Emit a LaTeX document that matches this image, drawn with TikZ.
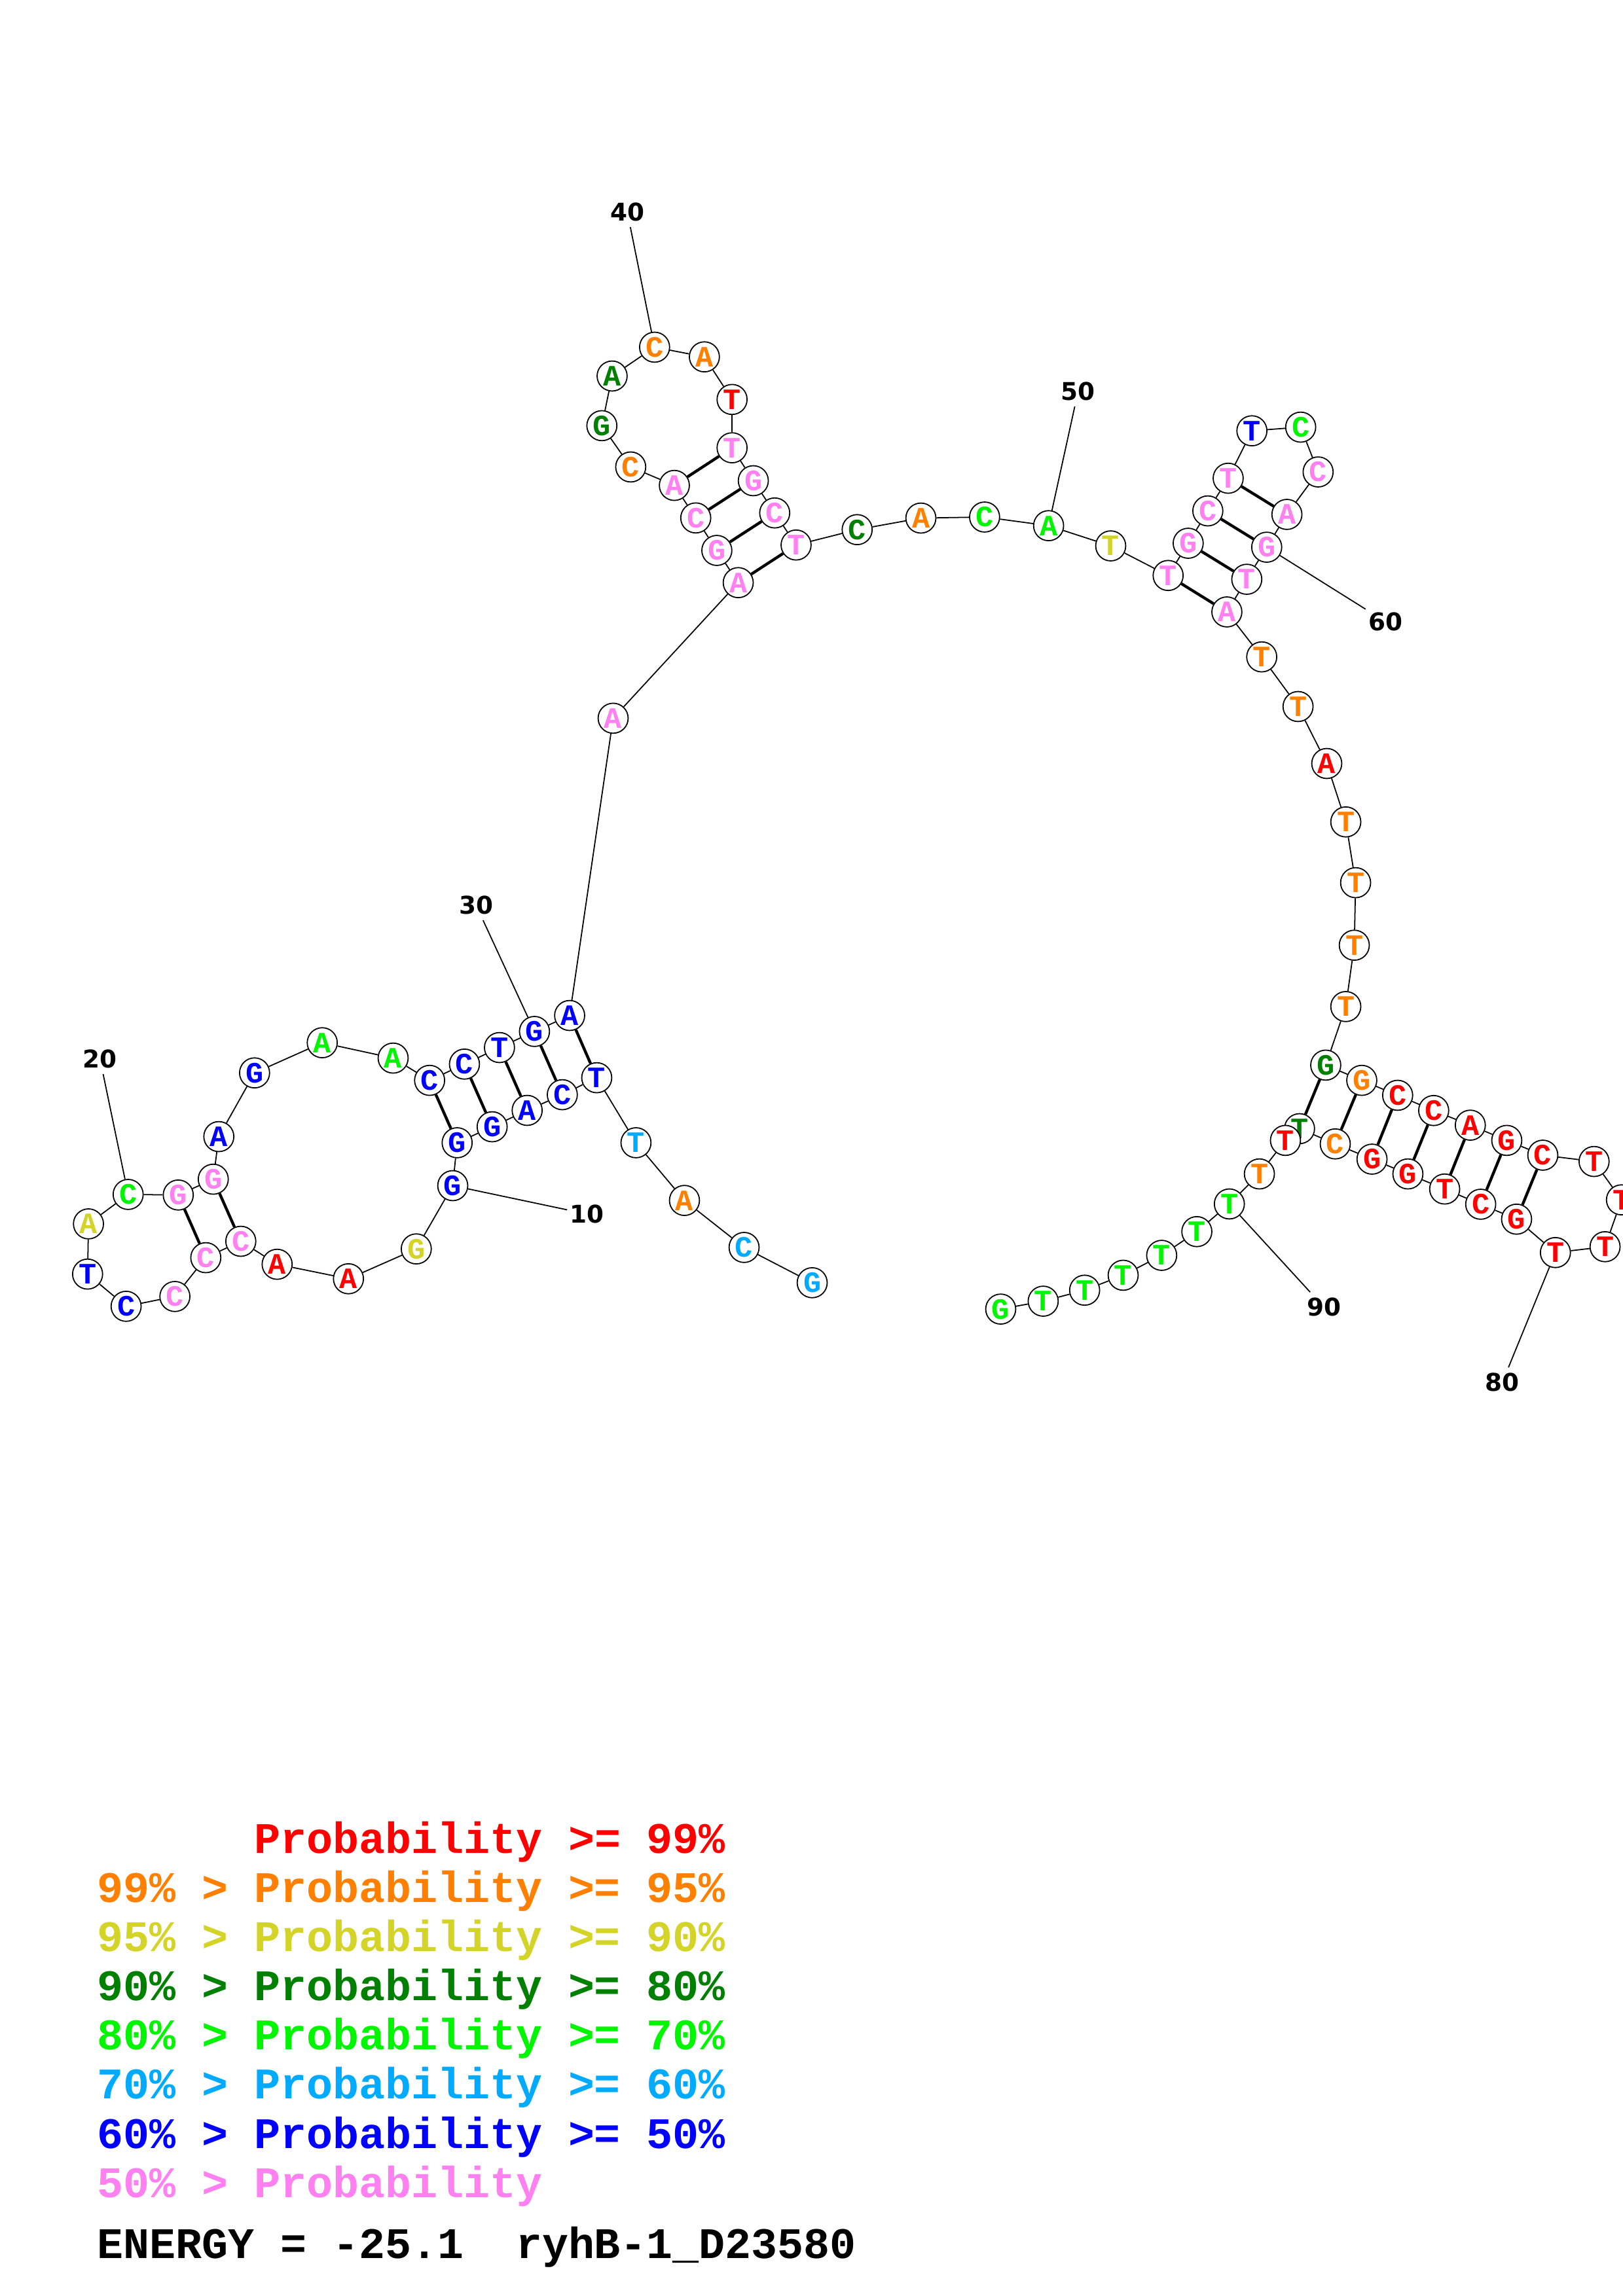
\documentclass[tikz,border=0pt]{standalone}
\usepackage{fontspec}
\newfontfamily\ntfont{Liberation Mono}
\newfontfamily\numfont{DejaVu Sans}
\usetikzlibrary{backgrounds}

\definecolor{pr99}{RGB}{255,0,0}
\definecolor{pr95}{RGB}{255,128,0}
\definecolor{pr90}{RGB}{212,212,40}
\definecolor{pr80}{RGB}{0,128,0}
\definecolor{pr70}{RGB}{0,245,0}
\definecolor{pr60}{RGB}{0,170,255}
\definecolor{pr50}{RGB}{0,0,255}
\definecolor{prlo}{RGB}{255,128,240}

\begin{document}
\begin{tikzpicture}[
    x=0.02cm, y=-0.02cm,
    nt/.style={circle, draw, fill=white, line width=0.45pt,
      minimum size=0.41cm, inner sep=0pt, text=#1,
      font=\ntfont\bfseries\fontsize{11.5}{11.5}\selectfont},
    bb/.style={line width=0.45pt},
    bp/.style={line width=1.1pt},
    numlab/.style={inner xsep=1pt, inner ysep=2pt,
      font=\numfont\bfseries\fontsize{9.5}{9.5}\selectfont},
    leg/.style={anchor=base west, inner sep=0pt,
      font=\ntfont\bfseries\fontsize{16.95}{16.95}\selectfont},
  ]
  \useasboundingbox (0,0) rectangle (1108,1568);

  % 5' tail and first helix
  \node[nt=pr60] (n1) at (554.5,876.0) {G};
  \node[nt=pr60] (n2) at (508.0,851.9) {C};
  \node[nt=pr95] (n3) at (467.3,819.8) {A};
  \node[nt=pr60] (n4) at (434.2,780.4) {T};
  \node[nt=pr50] (n5) at (407.4,736.0) {T};
  \node[nt=pr50] (n6) at (383.9,747.6) {C};
  \node[nt=pr50] (n7) at (359.9,758.3) {A};
  \node[nt=pr50] (n8) at (336.0,769.5) {G};
  \node[nt=pr50] (n9) at (312.1,780.4) {G};
  \node[nt=pr50] (n10) at (309.1,809.7) {G};
  \node[nt=pr90] (n11) at (284.2,852.9) {G};
  \node[nt=pr99] (n12) at (237.9,873.3) {A};
  \node[nt=pr99] (n13) at (189.2,863.4) {A};
  \node[nt=prlo] (n14) at (164.4,847.7) {C};
  \node[nt=prlo] (n15) at (140.5,858.9) {C};
  \node[nt=prlo] (n16) at (119.4,885.4) {C};
  \node[nt=pr50] (n17) at (86.1,892.1) {C};
  \node[nt=pr50] (n18) at (59.8,870.1) {T};
  \node[nt=pr90] (n19) at (60.4,835.8) {A};
  \node[nt=pr70] (n20) at (87.5,815.7) {C};
  \node[nt=prlo] (n21) at (121.7,816.1) {G};
  \node[nt=prlo] (n22) at (145.6,805.3) {G};
  \node[nt=pr50] (n23) at (149.4,776.2) {A};
  \node[nt=pr50] (n24) at (173.8,732.7) {G};
  \node[nt=pr70] (n25) at (220.0,712.1) {A};
  \node[nt=pr70] (n26) at (268.4,722.6) {A};
  \node[nt=pr50] (n27) at (293.3,737.8) {C};
  \node[nt=pr50] (n28) at (317.1,726.7) {C};
  \node[nt=pr50] (n29) at (341.0,715.4) {T};
  \node[nt=pr50] (n30) at (364.9,704.4) {G};
  \node[nt=pr50] (n31) at (388.9,693.5) {A};
  \node[nt=prlo] (n32) at (418.6,490.5) {A};

  % upper left hairpin
  \node[nt=prlo] (n33) at (504.0,397.9) {A};
  \node[nt=prlo] (n34) at (489.4,375.9) {G};
  \node[nt=prlo] (n35) at (475.0,353.7) {C};
  \node[nt=prlo] (n36) at (460.4,331.5) {A};
  \node[nt=pr95] (n37) at (430.6,318.9) {C};
  \node[nt=pr80] (n38) at (410.9,290.7) {G};
  \node[nt=pr80] (n39) at (417.9,256.8) {A};
  \node[nt=pr95] (n40) at (446.9,237.1) {C};
  \node[nt=pr95] (n41) at (480.9,243.7) {A};
  \node[nt=pr99] (n42) at (499.8,272.8) {T};
  \node[nt=prlo] (n43) at (499.8,305.8) {T};
  \node[nt=prlo] (n44) at (514.3,328.3) {G};
  \node[nt=prlo] (n45) at (528.9,350.3) {C};
  \node[nt=prlo] (n46) at (543.5,372.2) {T};
  \node[nt=pr80] (n47) at (585.2,361.7) {C};
  \node[nt=pr95] (n48) at (628.7,353.8) {A};
  \node[nt=pr70] (n49) at (672.2,353.1) {C};
  \node[nt=pr70] (n50) at (715.9,359.0) {A};
  \node[nt=pr90] (n51) at (758.3,372.8) {T};

  % upper right hairpin
  \node[nt=prlo] (n52) at (797.5,393.0) {T};
  \node[nt=prlo] (n53) at (811.2,371.0) {G};
  \node[nt=prlo] (n54) at (824.6,348.9) {C};
  \node[nt=prlo] (n55) at (838.5,326.6) {T};
  \node[nt=pr50] (n56) at (854.7,294.2) {T};
  \node[nt=pr70] (n57) at (888.0,291.7) {C};
  \node[nt=prlo] (n58) at (899.9,322.3) {C};
  \node[nt=prlo] (n59) at (878.6,351.3) {A};
  \node[nt=prlo] (n60) at (864.8,373.7) {G};
  \node[nt=prlo] (n61) at (851.2,395.6) {T};
  \node[nt=prlo] (n62) at (837.6,417.9) {A};
  \node[nt=pr95] (n63) at (861.4,448.6) {T};
  \node[nt=pr95] (n64) at (886.2,482.5) {T};
  \node[nt=pr99] (n65) at (905.8,521.4) {A};
  \node[nt=pr95] (n66) at (918.8,561.3) {T};
  \node[nt=pr95] (n67) at (925.5,602.8) {T};
  \node[nt=pr95] (n68) at (924.6,645.5) {T};
  \node[nt=pr95] (n69) at (918.8,687.4) {T};

  % lower right hairpin
  \node[nt=pr80] (n70) at (905.1,727.4) {G};
  \node[nt=pr95] (n71) at (929.7,737.8) {G};
  \node[nt=pr99] (n72) at (954.2,748.0) {C};
  \node[nt=pr99] (n73) at (978.8,758.4) {C};
  \node[nt=pr99] (n74) at (1003.8,768.4) {A};
  \node[nt=pr99] (n75) at (1028.7,778.8) {G};
  \node[nt=pr99] (n76) at (1053.3,788.9) {C};
  \node[nt=pr99] (n77) at (1088.3,793.2) {T};
  \node[nt=pr99] (n78) at (1107.0,819.4) {T};
  \node[nt=pr99] (n79) at (1095.8,851.4) {T};
  \node[nt=pr99] (n80) at (1061.9,855.4) {T};
  \node[nt=pr99] (n81) at (1035.4,832.6) {G};
  \node[nt=pr99] (n82) at (1010.9,822.4) {C};
  \node[nt=pr99] (n83) at (986.3,812.0) {T};
  \node[nt=pr99] (n84) at (961.2,801.7) {G};
  \node[nt=pr99] (n85) at (936.7,791.6) {G};
  \node[nt=pr95] (n86) at (911.6,781.2) {C};
  \node[nt=pr80] (n87) at (887.2,770.8) {T};
  \node[nt=pr99] (n88) at (877.6,778.8) {T};

  % 3' tail
  \node[nt=pr95] (n89) at (859.8,801.7) {T};
  \node[nt=pr70] (n90) at (839.3,822.2) {T};
  \node[nt=pr70] (n91) at (817.1,841.1) {T};
  \node[nt=pr70] (n92) at (793.1,857.3) {T};
  \node[nt=pr70] (n93) at (766.8,870.9) {T};
  \node[nt=pr70] (n94) at (740.5,881.1) {T};
  \node[nt=pr70] (n95) at (712.2,888.6) {T};
  \node[nt=pr70] (n96) at (683.2,894.0) {G};

  % position numbers
  \node[numlab] (lab10) at (400.9,829.1) {10};
  \node[numlab] (lab20) at (68.3,723.3) {20};
  \node[numlab] (lab30) at (325.1,618.3) {30};
  \node[numlab] (lab40) at (428.3,144.9) {40};
  \node[numlab] (lab50) at (736.0,267.4) {50};
  \node[numlab] (lab60) at (946.0,424.6) {60};
  \node[numlab] (lab80) at (1025.7,944.0) {80};
  \node[numlab] (lab90) at (903.8,892.6) {90};

  \begin{pgfonlayer}{background}
    \foreach \i [evaluate=\i as \j using int(\i+1)] in {1,...,95}
      \draw[bb] (n\i) -- (n\j);
    \foreach \a/\b in {5/31,6/30,7/29,8/28,9/27,14/22,15/21,
        33/46,34/45,35/44,36/43,52/62,53/61,54/60,55/59,
        70/87,71/86,72/85,73/84,74/83,75/82,76/81}
      \draw[bp] (n\a) -- (n\b);
    \foreach \k in {10,20,30,40,50,60,80,90}
      \draw[bb] (n\k) -- (lab\k);
  \end{pgfonlayer}

  % legend
  \node[leg, text=pr99] (leg1) at (66,1265.4) {\phantom{99\% > }Probability >= 99\%};
  \node[leg, text=pr95] (leg2) at (66,1299.0) {99\% > Probability >= 95\%};
  \node[leg, text=pr90] (leg3) at (66,1332.6) {95\% > Probability >= 90\%};
  \node[leg, text=pr80] (leg4) at (66,1366.2) {90\% > Probability >= 80\%};
  \node[leg, text=pr70] (leg5) at (66,1399.8) {80\% > Probability >= 70\%};
  \node[leg, text=pr60] (leg6) at (66,1433.4) {70\% > Probability >= 60\%};
  \node[leg, text=pr50] (leg7) at (66,1467.0) {60\% > Probability >= 50\%};
  \node[leg, text=prlo] (leg8) at (66,1500.6) {50\% > Probability};
  \node[leg] (energy) at (66,1542.5) {ENERGY = -25.1\ \ ryhB-1\_D23580};
\end{tikzpicture}
\end{document}
